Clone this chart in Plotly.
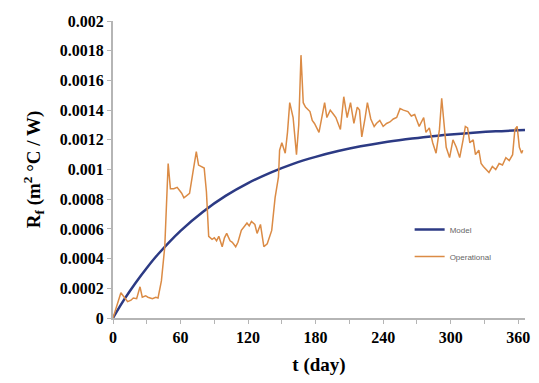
import plotly.graph_objects as go

# Model curve
model_days = [0, 10, 20, 30, 40, 60, 80, 100, 120, 140, 160, 180, 200, 220, 240, 260, 280, 300, 320, 340, 360, 366]
model_rf = [0, 0.000125, 0.000236, 0.000337, 0.000429, 0.000587, 0.000716, 0.000822, 0.000908, 0.000979,
            0.001038, 0.001085, 0.001124, 0.001156, 0.001182, 0.001203, 0.001221, 0.001235, 0.001247,
            0.001257, 0.001264, 0.001266]

# Operational data
op_days = [0, 3, 7, 10, 13, 16, 18, 21, 24, 26, 29, 31, 35, 38, 40, 43, 46, 49, 51, 54, 57, 59, 61, 63, 66,
           68, 71, 74, 76, 79, 81, 83, 85, 88, 90, 92, 94, 97, 99, 101, 104, 106, 109, 111, 114, 117, 119,
           121, 123, 126, 128, 131, 134, 137, 141, 144, 147, 148, 150, 153, 155, 157, 160, 163, 165, 167,
           169, 171, 175, 177, 179, 183, 186, 188, 190, 193, 196, 198, 202, 205, 208, 211, 214, 217, 219,
           221, 224, 226, 229, 232, 234, 237, 240, 243, 246, 249, 252, 255, 258, 262, 265, 268, 270, 272,
           276, 278, 281, 284, 287, 290, 292, 294, 296, 299, 302, 305, 308, 311, 313, 315, 317, 320, 322,
           325, 327, 329, 332, 334, 337, 340, 343, 346, 349, 352, 355, 357, 359, 361, 363, 364]
op_rf = [0, 0.00008, 0.00017, 0.00014, 0.00011, 0.00012, 0.000135, 0.00013, 0.00021, 0.00014, 0.00015,
         0.00014, 0.00013, 0.00014, 0.000135, 0.00025, 0.00048, 0.00104, 0.00087, 0.00087, 0.00088,
         0.00086, 0.00084, 0.00081, 0.00083, 0.00084, 0.00098, 0.00112, 0.00103, 0.00102, 0.00101,
         0.00085, 0.00055, 0.00053, 0.00054, 0.00052, 0.00055, 0.00048, 0.00054, 0.00057, 0.00052,
         0.00051, 0.00048, 0.00051, 0.00059, 0.00062, 0.00064, 0.00062, 0.00065, 0.00063, 0.00057,
         0.00063, 0.00048, 0.00050, 0.00059, 0.00081, 0.00095, 0.00113, 0.00118, 0.00111, 0.00125,
         0.00145, 0.00135, 0.00110, 0.00130, 0.00177, 0.00145, 0.00142, 0.00139, 0.00133, 0.00131,
         0.00125, 0.00138, 0.00145, 0.00135, 0.00140, 0.00137, 0.00135, 0.00127, 0.00149, 0.00135,
         0.00145, 0.00131, 0.00142, 0.00140, 0.00122, 0.00135, 0.00145, 0.00134, 0.00129, 0.00131,
         0.00133, 0.00129, 0.00131, 0.00132, 0.00134, 0.00135, 0.00141, 0.00140, 0.00139, 0.00136,
         0.00137, 0.00133, 0.00129, 0.00135, 0.00125, 0.00128, 0.00118, 0.00111, 0.00127, 0.00148,
         0.00130, 0.00115, 0.00108, 0.00120, 0.00115, 0.00108, 0.00120, 0.00129, 0.00128, 0.00118,
         0.00120, 0.00110, 0.00113, 0.00104, 0.00102, 0.00100, 0.00098, 0.00102, 0.00100, 0.00104,
         0.00103, 0.00108, 0.00106, 0.00110, 0.00127, 0.00129, 0.00115, 0.00111, 0.00113]

x_ticks = [0, 60, 120, 180, 240, 300, 360]
y_ticks = [0, 0.0002, 0.0004, 0.0006, 0.0008, 0.001, 0.0012, 0.0014, 0.0016, 0.0018, 0.002]
y_tick_text = ["0", "0.0002", "0.0004", "0.0006", "0.0008", "0.001", "0.0012", "0.0014", "0.0016", "0.0018", "0.002"]

fig = go.Figure()
fig.add_trace(go.Scatter(x=model_days, y=model_rf, mode="lines", name="Model",
                         line=dict(color="#2c3a84", width=2.5, shape="spline"),
                         legendgroup="a"))
fig.add_trace(go.Scatter(x=op_days, y=op_rf, mode="lines", name="Operational",
                         line=dict(color="#db8b45", width=1.5),
                         legendgroup="b"))

font_serif = "Liberation Serif"
fig.update_layout(
    width=539, height=383,
    margin=dict(l=113, r=9, t=21, b=65),
    paper_bgcolor="white", plot_bgcolor="white",
    font=dict(family=font_serif, color="black"),
    showlegend=True,
    legend=dict(x=0.72, y=0.347, xanchor="left", yanchor="top",
                font=dict(family="Arial, Liberation Sans", size=8, color="#666"),
                bgcolor="rgba(0,0,0,0)", tracegroupgap=8, traceorder="grouped"),
    xaxis=dict(range=[0, 366], tickvals=x_ticks, ticktext=[str(v) for v in x_ticks],
               showgrid=False, zeroline=False, showline=True, linecolor="#b5b5b5", linewidth=2,
               ticks="outside", ticklen=4, tickcolor="#b5b5b5",
               minor=dict(dtick=30, tick0=0, ticks="outside", ticklen=4, tickcolor="#b5b5b5"),
               tickfont=dict(family=font_serif, size=16, color="black", weight="bold"),
               title=dict(text="<b>t (day)</b>", font=dict(family=font_serif, size=19), standoff=12)),
    yaxis=dict(range=[0, 0.002], tickvals=y_ticks, ticktext=y_tick_text,
               showgrid=False, zeroline=False, showline=True, linecolor="#b5b5b5", linewidth=2,
               ticks="outside", ticklen=4, tickcolor="#b5b5b5",
               tickfont=dict(family=font_serif, size=16, color="black", weight="bold"),
               title=dict(text="<b>R<sub>f</sub> (m<sup>2</sup> °C / W)</b>",
                          font=dict(family=font_serif, size=19), standoff=14)),
)

fig.write_html("out.html")
